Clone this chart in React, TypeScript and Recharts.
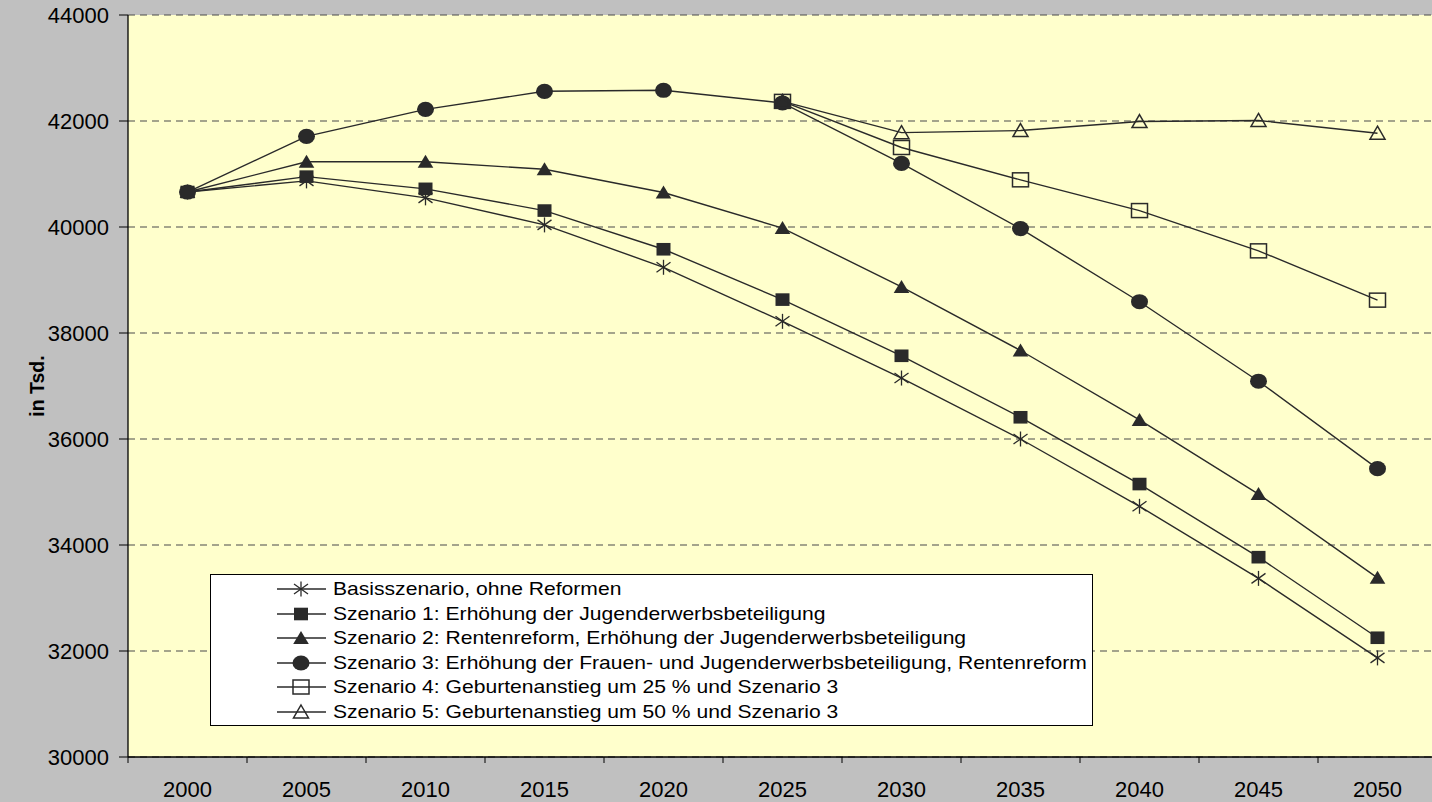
import React from 'react';
import { CartesianGrid, Legend, Line, LineChart, XAxis, YAxis } from 'recharts';

const YEARS = [2000, 2005, 2010, 2015, 2020, 2025, 2030, 2035, 2040, 2045, 2050];
const BASIS = [40660, 40870, 40550, 40040, 39240, 38220, 37150, 36000, 34730, 33370, 31870];
const SZ1 = [40660, 40950, 40720, 40310, 39580, 38630, 37570, 36410, 35150, 33770, 32250];
const SZ2 = [40660, 41230, 41230, 41090, 40650, 39980, 38870, 37670, 36360, 34960, 33380];
const SZ3 = [40660, 41710, 42220, 42560, 42580, 42340, 41200, 39970, 38590, 37090, 35440];
const SZ4 = [null, null, null, null, null, 42370, 41500, 40890, 40310, 39550, 38620];
const SZ5 = [null, null, null, null, null, 42370, 41780, 41820, 41990, 42010, 41770];
const Y_TICKS = [30000, 32000, 34000, 36000, 38000, 40000, 42000, 44000];

const SERIES = [
  { key: 'basis', values: BASIS, marker: 'star', label: 'Basisszenario, ohne Reformen' },
  { key: 'sz1', values: SZ1, marker: 'square', label: 'Szenario 1: Erhöhung der Jugenderwerbsbeteiligung' },
  { key: 'sz2', values: SZ2, marker: 'triangle', label: 'Szenario 2: Rentenreform, Erhöhung der Jugenderwerbsbeteiligung' },
  { key: 'sz3', values: SZ3, marker: 'circle', label: 'Szenario 3: Erhöhung der Frauen- und Jugenderwerbsbeteiligung, Rentenreform' },
  { key: 'sz4', values: SZ4, marker: 'openSquare', label: 'Szenario 4: Geburtenanstieg um 25 % und Szenario 3' },
  { key: 'sz5', values: SZ5, marker: 'openTriangle', label: 'Szenario 5: Geburtenanstieg um 50 % und Szenario 3' },
];

const rows = YEARS.map((year, i) => {
  const row: Record<string, number | null> = { year };
  SERIES.forEach((s) => {
    row[s.key] = s.values[i];
  });
  return row;
});

const FONT = '"Liberation Sans", Arial, sans-serif';
const INK = '#2a2a2a';
const CHART_W = 1437;
const CHART_H = 802;
const PLOT_LEFT = 128;
const HALF_BAND = (CHART_W - PLOT_LEFT) / YEARS.length / 2;

function Marker({ cx, cy, kind }: { cx?: number; cy?: number; kind: string }) {
  if (cx == null || cy == null || Number.isNaN(cx) || Number.isNaN(cy)) return null;
  switch (kind) {
    case 'star':
      return (
        <g stroke={INK} strokeWidth={1.3}>
          <line x1={cx} y1={cy - 7.5} x2={cx} y2={cy + 7.5} />
          <line x1={cx - 7} y1={cy - 5} x2={cx + 7} y2={cy + 5} />
          <line x1={cx - 7} y1={cy + 5} x2={cx + 7} y2={cy - 5} />
        </g>
      );
    case 'square':
      return <rect x={cx - 7} y={cy - 6.3} width={14} height={12.6} fill={INK} />;
    case 'triangle':
      return <polygon points={`${cx},${cy - 7} ${cx + 7.8},${cy + 6} ${cx - 7.8},${cy + 6}`} fill={INK} />;
    case 'circle':
      return <ellipse cx={cx} cy={cy} rx={8.5} ry={7.6} fill={INK} />;
    case 'openSquare':
      return <rect x={cx - 8} y={cy - 7} width={16} height={14} fill="none" stroke={INK} strokeWidth={1.5} />;
    case 'openTriangle':
      return (
        <polygon
          points={`${cx},${cy - 7} ${cx + 7.5},${cy + 6} ${cx - 7.5},${cy + 6}`}
          fill="none"
          stroke={INK}
          strokeWidth={1.5}
        />
      );
    default:
      return null;
  }
}

function YearTick(props: any) {
  const { x, y, payload } = props;
  return (
    <g>
      <line x1={x - HALF_BAND} x2={x - HALF_BAND} y1={y} y2={y + 6} stroke="#000" strokeWidth={1} />
      <text x={x} y={y + 40} textAnchor="middle" fontSize={22} fontFamily={FONT} fill="#000">
        {payload.value}
      </text>
    </g>
  );
}

function LegendBox() {
  return (
    <div
      style={{
        width: 883,
        height: 152,
        boxSizing: 'border-box',
        border: '1px solid #000',
        background: '#ffffff',
        position: 'relative',
        fontFamily: FONT,
        fontSize: 18.5,
        color: '#000',
      }}
    >
      {SERIES.map((s, i) => (
        <div key={s.key} style={{ position: 'absolute', left: 0, top: 14 + i * 24.6 - 12, height: 24, width: '100%' }}>
          <svg width={60} height={24} style={{ position: 'absolute', left: 64, top: 0 }}>
            <line x1={2} x2={51} y1={12} y2={12} stroke={INK} strokeWidth={1.3} />
            <Marker cx={26} cy={12} kind={s.marker} />
          </svg>
          <span
            style={{
              position: 'absolute',
              left: 122,
              top: 0,
              lineHeight: '24px',
              whiteSpace: 'nowrap',
              transform: 'scaleX(1.14)',
              transformOrigin: 'left center',
            }}
          >
            {s.label}
          </span>
        </div>
      ))}
    </div>
  );
}

export default function App() {
  return (
    <div
      style={{
        position: 'absolute',
        left: 0,
        top: 0,
        width: 1432,
        height: 802,
        overflow: 'hidden',
        background: '#c0c0c0',
      }}
    >
      <LineChart width={CHART_W} height={CHART_H} data={rows} margin={{ top: 15, right: 0, bottom: 0, left: 8 }}>
        <CartesianGrid
          vertical={false}
          fill="#ffffcc"
          stroke="#4a4a4a"
          strokeDasharray="7 5"
          strokeWidth={1.2}
        />
        <XAxis
          dataKey="year"
          type="number"
          domain={[YEARS[0] - 2.5, YEARS[YEARS.length - 1] + 2.5]}
          ticks={YEARS}
          height={45}
          tickLine={false}
          tickSize={0}
          tickMargin={0}
          axisLine={{ stroke: '#000', strokeWidth: 1.3 }}
          tick={<YearTick />}
        />
        <YAxis
          type="number"
          domain={[30000, 44000]}
          ticks={Y_TICKS}
          width={120}
          tickSize={9}
          tickMargin={10}
          axisLine={{ stroke: '#000', strokeWidth: 1.3 }}
          tickLine={{ stroke: '#000' }}
          tick={{ fontSize: 22, fill: '#000', fontFamily: FONT }}
          label={{
            content: (p: any) => {
              const vb = p.viewBox;
              const cx = vb.x + 29;
              const cy = vb.y + vb.height / 2;
              return (
                <text
                  x={cx}
                  y={cy}
                  transform={`rotate(-90 ${cx} ${cy})`}
                  textAnchor="middle"
                  dominantBaseline="central"
                  fontSize={19.5}
                  fontWeight="bold"
                  fontFamily={FONT}
                  fill="#000"
                >
                  in Tsd.
                </text>
              );
            },
          }}
        />
        {SERIES.map((s) => (
          <Line
            key={s.key}
            dataKey={s.key}
            type="linear"
            stroke={INK}
            strokeWidth={1.4}
            connectNulls={false}
            isAnimationActive={false}
            activeDot={false}
            dot={(p: any) => <Marker key={`${s.key}-${p.index}`} cx={p.cx} cy={p.cy} kind={s.marker} />}
          />
        ))}
        <Legend
          layout="vertical"
          align="center"
          verticalAlign="middle"
          wrapperStyle={{ left: 210, top: 574, width: 883, height: 152 }}
          content={() => <LegendBox />}
        />
      </LineChart>
    </div>
  );
}
